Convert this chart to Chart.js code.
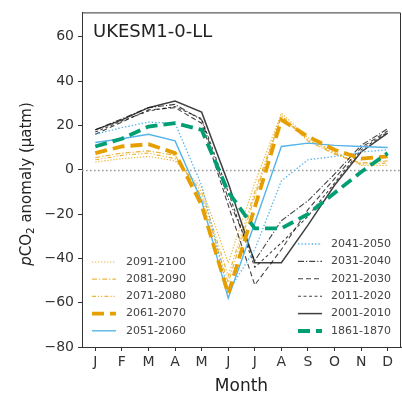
<!DOCTYPE html>
<html>
<head>
<meta charset="utf-8">
<script src="https://cdn.jsdelivr.net/npm/chart.js@4.4.1/dist/chart.umd.min.js"></script>
<style>
  html, body { margin: 0; padding: 0; background: #fff; }
  #wrap { width: 402px; height: 397px; }
</style>
</head>
<body>
<div id="wrap"><canvas id="c" width="402" height="397"></canvas></div>
<script>
// Monthly pCO2 anomaly climatology per decade (µatm)
const months = ['J', 'F', 'M', 'A', 'M', 'J', 'J', 'A', 'S', 'O', 'N', 'D'];
const yTicks = [-80, -60, -40, -20, 0, 20, 40, 60];

const d2091_2100 = [3.5, 5, 6, 4, -8, -42, -6, 25.5, 14.5, 8, 2, 2];
const d2081_2090 = [5.5, 7.5, 8.5, 6.5, -12, -51, -12, 24, 13, 7, 3, 4];
const d2071_2080 = [4.5, 6.5, 7.5, 5, -10, -48, -10, 24.5, 13.5, 7.5, 2.5, 3];
const d2061_2070 = [7.5, 10.5, 11.5, 7.5, -16, -56, -17, 22.5, 15, 9, 5, 6];
const d2051_2060 = [12.3, 14, 16, 13, -14, -58, -24, 10.5, 12, 11, 10.5, 10];
const d2041_2050 = [16, 19, 21.5, 21, -7, -55, -36, -5, 4.5, 6, 8, 9];
const d2031_2040 = [18, 23, 28, 29.5, 22.5, -13, -41, -23, -14, -2, 11, 18.5];
const d2021_2030 = [16, 21.5, 27, 28, 21, -16, -52, -36, -18, -4, 10, 17.5];
const d2011_2020 = [17, 22, 26.5, 28.5, 23, -10, -44, -33, -21, -6, 9, 17];
const d2001_2010 = [18, 22.5, 28, 31, 26, -6, -42, -42, -25, -7, 8, 16.5];
const d1861_1870 = [10.5, 14, 19.5, 21, 18, -10, -26.5, -26.5, -20, -10.5, -1, 7.5];

const modelName = 'UKESM1-0-LL';
const FONT = "'DejaVu Sans', sans-serif";

const ORANGE = '#E69F00';
const ORANGE_L = 'rgba(230,159,0,0.75)';
const BLUE = '#56B4E9';
const GREEN = '#009E73';
const BLACK = 'rgba(20,20,20,0.8)';

function series(label, data, color, width, dash, order) {
  return {
    label, data,
    borderColor: color, backgroundColor: color,
    borderWidth: width, borderDash: dash,
    borderCapStyle: 'butt', borderJoinStyle: 'miter',
    pointRadius: 0, tension: 0, fill: false, order
  };
}

const datasets = [
  series('2091-2100', d2091_2100, ORANGE_L, 1.2, [1.3, 1.7], 5),
  series('2081-2090', d2081_2090, ORANGE_L, 1.2, [5, 2, 1.2, 2], 5),
  series('2071-2080', d2071_2080, ORANGE_L, 1.2, [4, 2, 1.2, 2, 1.2, 2], 5),
  series('2061-2070', d2061_2070, ORANGE, 3.8, [12, 6], 1),
  series('2051-2060', d2051_2060, BLUE, 1.4, [], 3),
  series('2041-2050', d2041_2050, BLUE, 1.3, [1.4, 2], 3),
  series('2031-2040', d2031_2040, BLACK, 1.1, [6, 2, 1.2, 2], 4),
  series('2021-2030', d2021_2030, BLACK, 1.1, [5, 3], 4),
  series('2011-2020', d2011_2020, BLACK, 1.1, [3, 2.5], 4),
  series('2001-2010', d2001_2010, 'rgba(30,30,30,0.85)', 1.5, [], 4),
  series('1861-1870', d1861_1870, GREEN, 3.8, [12, 6], 0)
];

const leftLegend = ['2091-2100', '2081-2090', '2071-2080', '2061-2070', '2051-2060'];
const rightLegend = ['2041-2050', '2031-2040', '2021-2030', '2011-2020', '2001-2010', '1861-1870'];

// dotted zero reference line, box frame, panel label, legend and axis titles
const decor = {
  id: 'decor',
  beforeDatasetsDraw(chart) {
    const { ctx, chartArea: a, scales: { y } } = chart;
    const y0 = Math.round(y.getPixelForValue(0)) + 0.5;
    ctx.save();
    ctx.strokeStyle = '#9a9a9a';
    ctx.lineWidth = 1.6;
    ctx.setLineDash([1.6, 2.4]);
    ctx.beginPath();
    ctx.moveTo(a.left, y0);
    ctx.lineTo(a.right, y0);
    ctx.stroke();
    ctx.restore();
  },
  afterDraw(chart) {
    const { ctx, chartArea: a } = chart;
    ctx.save();
    // frame top and right
    ctx.strokeStyle = '#333';
    ctx.lineWidth = 1;
    ctx.setLineDash([]);
    ctx.beginPath();
    ctx.moveTo(a.left, a.top + 0.5);
    ctx.lineTo(a.right - 0.5, a.top + 0.5);
    ctx.lineTo(a.right - 0.5, a.bottom);
    ctx.stroke();

    // panel label
    ctx.fillStyle = '#222';
    ctx.font = '18px ' + FONT;
    ctx.textBaseline = 'middle';
    ctx.textAlign = 'left';
    ctx.fillText(modelName, a.left + 11, 32);

    // legend
    const byLabel = {};
    chart.data.datasets.forEach(d => { byLabel[d.label] = d; });
    const drawEntry = (label, x0, x1, tx, yy) => {
      const d = byLabel[label];
      ctx.strokeStyle = d.borderColor;
      ctx.lineWidth = d.borderWidth;
      ctx.setLineDash(d.borderDash);
      ctx.lineCap = 'butt';
      ctx.beginPath();
      ctx.moveTo(x0, yy);
      ctx.lineTo(x1, yy);
      ctx.stroke();
      ctx.setLineDash([]);
      ctx.fillStyle = '#444';
      ctx.font = '11px ' + FONT;
      ctx.textAlign = 'left';
      ctx.textBaseline = 'middle';
      ctx.fillText(label, tx, yy);
    };
    leftLegend.forEach((l, i) => drawEntry(l, 92, 116, 126, 262 + i * 17.2));
    rightLegend.forEach((l, i) => drawEntry(l, 298, 322, 331, 244 + i * 17.4));

    // x-axis title
    ctx.fillStyle = '#222';
    ctx.font = '17px ' + FONT;
    ctx.textAlign = 'center';
    ctx.textBaseline = 'middle';
    ctx.fillText('Month', (a.left + a.right) / 2, 387);

    // y-axis title: italic p, CO with subscript 2
    const parts = [
      { t: 'p', f: 'italic 15px ' + FONT, dy: 0 },
      { t: 'CO', f: '15px ' + FONT, dy: 0 },
      { t: '2', f: '10.5px ' + FONT, dy: 4 },
      { t: ' anomaly (\u03bcatm)', f: '15px ' + FONT, dy: 0 }
    ];
    let total = 0;
    parts.forEach(p => { ctx.font = p.f; p.w = ctx.measureText(p.t).width; total += p.w; });
    ctx.translate(27, 184);
    ctx.rotate(-Math.PI / 2);
    ctx.textAlign = 'left';
    ctx.textBaseline = 'middle';
    let x = -total / 2;
    parts.forEach(p => { ctx.font = p.f; ctx.fillText(p.t, x, p.dy); x += p.w; });
    ctx.restore();
  }
};

new Chart(document.getElementById('c'), {
  type: 'line',
  data: { labels: months, datasets },
  options: {
    responsive: false,
    devicePixelRatio: 1,
    animation: false,
    layout: { padding: { top: 10, right: 1, left: 0, bottom: 0 } },
    plugins: { legend: { display: false }, tooltip: { enabled: false }, title: { display: false } },
    scales: {
      x: {
        type: 'category',
        offset: true,
        grid: { offset: false, drawOnChartArea: false, drawTicks: true, tickLength: 4, color: '#333' },
        border: { display: true, color: '#333', width: 1 },
        ticks: { color: '#333', font: { family: FONT, size: 14 }, padding: 3, maxRotation: 0, autoSkip: false },
        afterFit(s) { s.height = 50; }
      },
      y: {
        min: -80,
        max: 71,
        afterBuildTicks(s) { s.ticks = yTicks.map(v => ({ value: v })); },
        grid: { drawOnChartArea: false, drawTicks: true, tickLength: 4, color: '#333' },
        border: { display: true, color: '#333', width: 1 },
        ticks: {
          color: '#333', font: { family: FONT, size: 14 }, padding: 4,
          callback: v => (v < 0 ? '\u2212' : '') + Math.abs(v)
        },
        afterFit(s) { s.width = 82; }
      }
    }
  },
  plugins: [decor]
});
</script>
</body>
</html>
